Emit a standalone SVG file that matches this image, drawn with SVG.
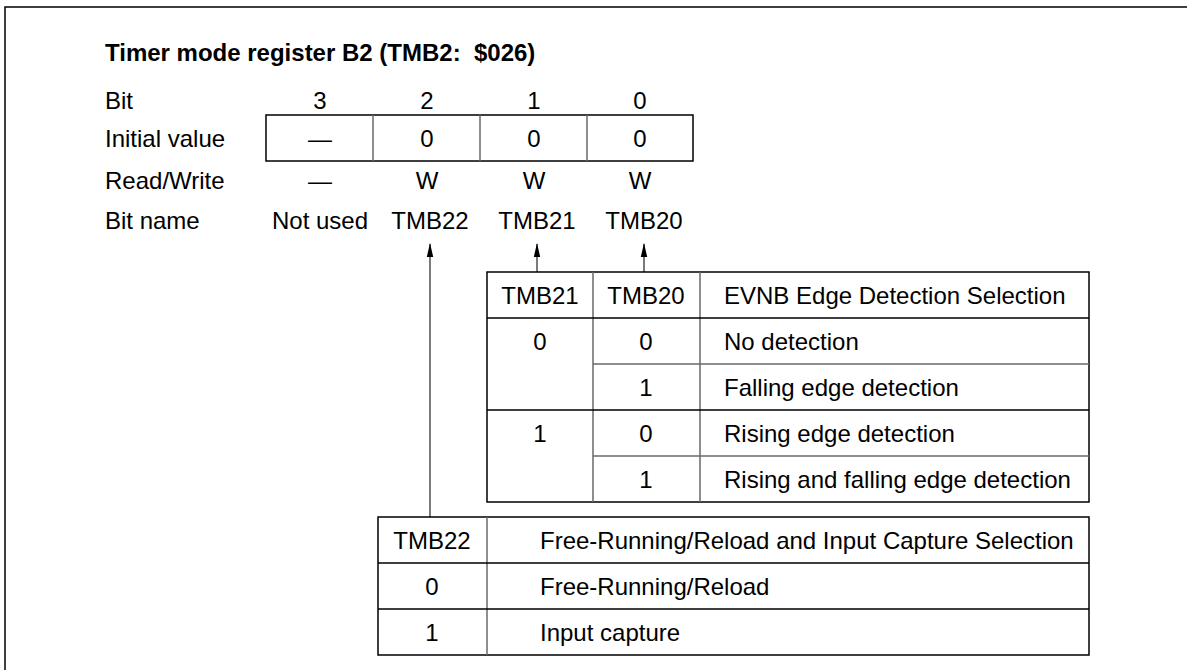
<svg xmlns="http://www.w3.org/2000/svg" width="1187" height="670" viewBox="0 0 1187 670">
<style>
text{font-family:"Liberation Sans",Arial,sans-serif;font-size:24px;fill:#000}
.b{font-weight:bold;white-space:pre}
.m{text-anchor:middle}
.o{fill:none;stroke:#000;stroke-width:1.5}
.g{fill:none;stroke:#6a6a6a;stroke-width:1.5}
.c{stroke:#333;stroke-width:1.3;fill:none}
</style>
<defs>
<marker id="ah" markerWidth="14" markerHeight="8" refX="13" refY="4" orient="auto" markerUnits="userSpaceOnUse" viewBox="0 0 14 8"><path d="M0,0.8 L14,4 L0,7.2 Z" fill="#000"/></marker>
</defs>
<rect width="1187" height="670" fill="#fff"/>
<path class="o" d="M5,670 V7 H1187" stroke-width="2"/>
<text class="b" x="105" y="61" xml:space="preserve">Timer mode register B2 (TMB2:  $026)</text>
<g id="labels">
<text x="105" y="109">Bit</text>
<text x="105" y="147">Initial value</text>
<text x="105" y="189">Read/Write</text>
<text x="105" y="229">Bit name</text>
</g>
<g id="register">
<text class="m" x="320" y="109">3</text>
<text class="m" x="427" y="109">2</text>
<text class="m" x="534" y="109">1</text>
<text class="m" x="640" y="109">0</text>
<rect class="o" x="266" y="115" width="427" height="46"/>
<path class="g" d="M373,115 V161 M480,115 V161 M587,115 V161"/>
<text class="m" x="320" y="147">—</text>
<text class="m" x="427" y="147">0</text>
<text class="m" x="534" y="147">0</text>
<text class="m" x="640" y="147">0</text>
<text class="m" x="320" y="189">—</text>
<text class="m" x="427" y="189">W</text>
<text class="m" x="534" y="189">W</text>
<text class="m" x="640" y="189">W</text>
<text class="m" x="320" y="229">Not used</text>
<text class="m" x="430" y="229">TMB22</text>
<text class="m" x="537" y="229">TMB21</text>
<text class="m" x="644" y="229">TMB20</text>
</g>
<g id="connectors">
<line class="c" x1="430" y1="517" x2="430" y2="244" marker-end="url(#ah)"/>
<line class="c" x1="537" y1="272" x2="537" y2="244" marker-end="url(#ah)"/>
<line class="c" x1="644" y1="272" x2="644" y2="244" marker-end="url(#ah)"/>
</g>
<g id="edge-table">
<rect class="o" x="487" y="272" width="602" height="230"/>
<path class="g" d="M593,272 V502 M700,272 V502"/>
<path class="o" d="M487,318 H1089 M487,410 H1089"/>
<path class="g" d="M593,364 H1089 M593,456 H1089"/>
<text class="m" x="540" y="304">TMB21</text>
<text class="m" x="646" y="304">TMB20</text>
<text x="724" y="304">EVNB Edge Detection Selection</text>
<text class="m" x="540" y="350">0</text>
<text class="m" x="646" y="350">0</text>
<text x="724" y="350">No detection</text>
<text class="m" x="646" y="396">1</text>
<text x="724" y="396">Falling edge detection</text>
<text class="m" x="540" y="442">1</text>
<text class="m" x="646" y="442">0</text>
<text x="724" y="442">Rising edge detection</text>
<text class="m" x="646" y="488">1</text>
<text x="724" y="488">Rising and falling edge detection</text>
</g>
<g id="mode-table">
<rect class="o" x="378" y="517" width="711" height="138"/>
<path class="g" d="M487,517 V655"/>
<path class="o" d="M378,563 H1089 M378,609 H1089"/>
<text class="m" x="432" y="549">TMB22</text>
<text x="540" y="549">Free-Running/Reload and Input Capture Selection</text>
<text class="m" x="432" y="595">0</text>
<text x="540" y="595">Free-Running/Reload</text>
<text class="m" x="432" y="641">1</text>
<text x="540" y="641">Input capture</text>
</g>
</svg>
